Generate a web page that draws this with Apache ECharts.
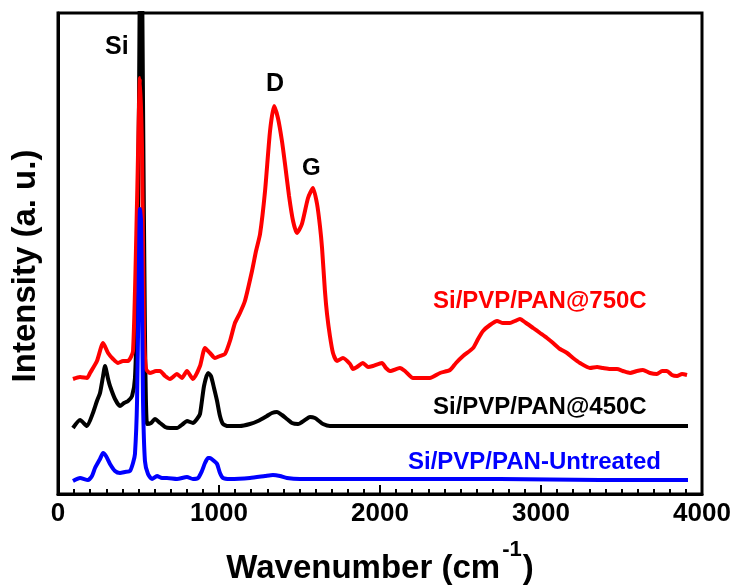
<!DOCTYPE html>
<html>
<head>
<meta charset="utf-8">
<script src="https://cdn.jsdelivr.net/npm/echarts@6/dist/echarts.min.js"></script>
<style>
html,body{margin:0;padding:0;background:#fff;}
#chart{width:733px;height:588px;}
</style>
</head>
<body>
<div id="chart"></div>
<script>
// Wavenumber (cm-1) and intensity (a.u.)
const wn750 = [93,137,180,199,242,280,311,342,373,404,435,466,491,509,522,534,547,571,609,634,665,696,739,770,801,838,882,913,944,975,1006,1037,1068,1099,1130,1161,1205,1230,1255,1286,1317,1342,1366,1391,1410,1435,1460,1484,1515,1553,1584,1609,1627,1640,1658,1671,1689,1708,1733,1770,1814,1832,1857,1894,1925,1956,2012,2037,2062,2124,2155,2205,2248,2310,2373,2435,2472,2516,2578,2609,2640,2683,2727,2764,2807,2838,2869,2907,2951,2994,3037,3075,3118,3162,3199,3242,3304,3348,3385,3429,3472,3509,3553,3596,3633,3677,3720,3752,3782,3813,3845,3876,3907];
const int750 = [115,117,116,121,133,151,141,135,131,133,133,143,293,416,343,163,125,121,123,123,118,115,120,116,123,115,128,146,141,136,138,140,153,171,181,193,223,243,260,303,363,388,376,353,330,298,273,261,270,296,306,290,268,246,203,180,158,141,133,136,130,125,127,131,127,128,131,126,123,126,123,116,116,116,121,124,131,138,146,155,163,169,173,171,171,173,175,171,166,161,156,151,145,141,136,131,126,127,126,125,125,123,121,123,124,121,120,123,123,119,118,120,119];

const wn450 = [93,137,180,217,242,261,280,292,311,323,354,385,410,435,460,478,491,503,515,528,540,553,578,602,634,665,696,739,776,801,838,863,882,907,932,950,969,988,1006,1025,1056,1087,1130,1192,1242,1298,1329,1360,1391,1422,1453,1491,1534,1565,1596,1621,1646,1689,2124,2745,3366,3913];
const int450 = [66,74,68,81,93,101,118,128,115,108,95,88,91,93,98,116,193,393,650,393,163,70,71,75,71,67,66,66,70,73,71,75,80,108,121,118,106,93,78,70,68,68,68,70,73,78,81,82,79,75,71,70,74,77,76,73,70,68,68,68,68,68];

const wnRaw = [93,137,186,211,230,261,280,298,323,354,385,416,447,466,478,491,503,509,516,522,528,540,559,584,615,646,677,739,801,838,870,894,913,932,944,969,988,1006,1025,1068,1192,1286,1335,1379,1422,1503,2124,2745,3366,3913];
const intRaw = [13,16,14,18,26,35,41,38,30,23,21,22,23,31,40,93,233,285,273,193,93,33,20,15,18,16,16,15,17,15,16,23,31,36,36,33,30,21,16,15,16,18,19,18,16,15,15,15,14,14];

const xTicks = [0,1000,2000,3000,4000];
const seriesNames = ['Si/PVP/PAN@450C','Si/PVP/PAN@750C','Si/PVP/PAN-Untreated'];

function pairs(xs, ys){ return xs.map((x,i)=>[x, ys[i]]); }

const chart = echarts.init(document.getElementById('chart'), null, {renderer:'canvas'});
const FONT = '"Liberation Sans", Arial, sans-serif';

const option = {
  animation: false,
  backgroundColor: '#fff',
  grid: { left: 58, right: 31, top: 13, bottom: 94, containLabel: false, outerBoundsMode: 'none',
          show: true, borderColor: '#000', borderWidth: 3, backgroundColor: 'transparent' },
  xAxis: {
    type: 'value', min: xTicks[0], max: xTicks[xTicks.length-1], interval: 1000,
    axisLine: { show: true, onZero: false, lineStyle: { color: '#000', width: 3 } },
    axisTick: { show: true, inside: true, length: 9, lineStyle: { color: '#000', width: 2 } },
    minorTick: { show: true, splitNumber: 10, length: 5, lineStyle: { color: '#000', width: 2 } },
    splitLine: { show: false },
    axisLabel: { color: '#000', fontFamily: FONT, fontWeight: 'bold', fontSize: 26, margin: 7,
                 formatter: v => String(v) },
    name: '{a|Wavenumber (cm}{s|-1}{a|)}',
    nameLocation: 'middle', nameGap: 45,
    nameTextStyle: {
      rich: {
        a: { fontFamily: FONT, fontWeight: 'bold', fontSize: 33, color: '#000', lineHeight: 46, verticalAlign: 'bottom' },
        s: { fontFamily: FONT, fontWeight: 'bold', fontSize: 22, color: '#000', verticalAlign: 'top', padding: [0,1,0,2] }
      }
    }
  },
  yAxis: {
    type: 'value', min: 0, max: 481,
    axisLine: { show: true, lineStyle: { color: '#000', width: 3 } },
    axisTick: { show: false }, axisLabel: { show: false }, splitLine: { show: false }
  },
  series: [
    { name: seriesNames[0], type: 'line', data: pairs(wn450, int450), showSymbol: false, smooth: 0.2, clip: true,
      lineStyle: { color: '#000', width: 4 } },
    { name: seriesNames[1], type: 'line', data: pairs(wn750, int750), showSymbol: false, smooth: 0.2, clip: true,
      lineStyle: { color: '#ff0000', width: 4 } },
    { name: seriesNames[2], type: 'line', data: pairs(wnRaw, intRaw), showSymbol: false, smooth: 0.2, clip: true,
      lineStyle: { color: '#0000ff', width: 4 } }
  ],
  graphic: [
    { type: 'text', x: 26, y: 266, rotation: Math.PI / 2,
      style: { text: 'Intensity (a. u.)', fontFamily: FONT, fontWeight: 'bold', fontSize: 33, fill: '#000',
               align: 'center', verticalAlign: 'middle' } },
    { type: 'text', left: 105, top: 35, style: { text: 'Si', fontFamily: FONT, fontWeight: 'bold', fontSize: 25, fill: '#000' } },
    { type: 'text', left: 266, top: 72, style: { text: 'D', fontFamily: FONT, fontWeight: 'bold', fontSize: 25, fill: '#000' } },
    { type: 'text', left: 302, top: 156, style: { text: 'G', fontFamily: FONT, fontWeight: 'bold', fontSize: 24, fill: '#000' } },
    { type: 'text', left: 433, top: 289, style: { text: seriesNames[1], fontFamily: FONT, fontWeight: 'bold', fontSize: 24, fill: '#ff0000' } },
    { type: 'text', left: 433, top: 395, style: { text: seriesNames[0], fontFamily: FONT, fontWeight: 'bold', fontSize: 24, fill: '#000' } },
    { type: 'text', left: 408, top: 450, style: { text: seriesNames[2], fontFamily: FONT, fontWeight: 'bold', fontSize: 24, fill: '#0000ff' } }
  ]
};
chart.setOption(option);
</script>
</body>
</html>
